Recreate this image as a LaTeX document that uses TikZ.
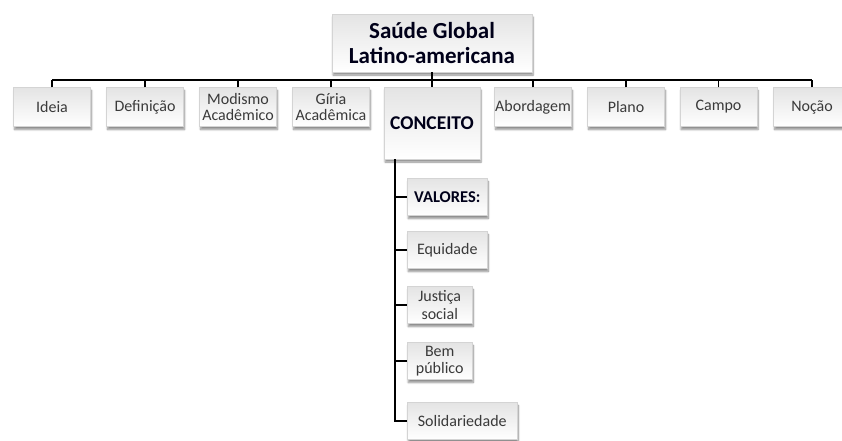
\documentclass[tikz,border=0pt]{standalone}
\usepackage{fontspec}
\setmainfont{Carlito}
\usetikzlibrary{shadows.blur}
\definecolor{txt}{HTML}{3A3A3A}
\definecolor{boxline}{HTML}{D4D4D4}
\definecolor{boxtop}{HTML}{FFFFFF}
\definecolor{boxbot}{HTML}{E4E4E4}
\begin{document}
\begin{tikzpicture}[x=1pt,y=-1pt,
  box/.style={draw=boxline, line width=0.5pt, top color=boxbot, bottom color=boxtop,
    blur shadow={shadow xshift=1pt, shadow yshift=-3pt, shadow blur steps=6, shadow opacity=45},
    inner sep=0pt, align=center, text=txt, font=\fontsize{16}{16.5}\selectfont},
  rowbox/.style={box, minimum width=77pt, minimum height=39pt},
  subbox/.style={box, anchor=west, minimum height=37pt, font=\fontsize{16}{17.5}\selectfont},
  bold/.style={text=black!90!blue, font=\bfseries\fontsize{16.5}{18}\selectfont},
  conn/.style={line width=1.6pt, black}]
\useasboundingbox (0,0) rectangle (842,440);
% top
\node[box, minimum width=200pt, minimum height=58pt, text=black!90!blue,
  font=\bfseries\fontsize{23}{25}\selectfont] (top) at (432,43) {Saúde Global\\Latino-americana};
% row
\node[rowbox] (ideia) at (52,107) {Ideia};
\node[rowbox] (defin) at (145,107) {Definição};
\node[rowbox] (modis) at (238,107) {Modismo\\Acadêmico};
\node[rowbox] (giria) at (331,107) {Gíria\\Acadêmica};
\node[box, minimum width=96pt, minimum height=72pt, text=black!90!blue,
  font=\bfseries\fontsize{19.5}{21}\selectfont] (conc) at (432,123) {CONCEITO};
\node[rowbox] (abord) at (533,107) {Abordagem};
\node[rowbox] (plano) at (626,107) {Plano};
\node[rowbox] (campo) at (718.5,107) {Campo};
\node[rowbox] (nocao) at (812,107) {Noção};
% sub
\node[subbox, minimum width=80pt, bold] (val) at (407,197) {VALORES:};
\node[subbox, minimum width=80pt] (equi) at (407,250) {Equidade};
\node[subbox, minimum width=65pt] (just) at (407,305) {Justiça\\social};
\node[subbox, minimum width=65pt] (bem) at (407,361) {Bem\\público};
\node[subbox, minimum width=110pt] (sol) at (407,421) {Solidariedade};
% connectors
\coordinate (busL) at (52,80);
\coordinate (busR) at (812,80);
\coordinate (spine) at (395,0);
\draw[conn] (busL) -- (busR);
\draw[conn] (top.south) -- (top.south |- busL);
\foreach \n in {ideia,defin,modis,giria,conc,abord,plano,campo,nocao}
  \draw[conn] (\n.north) -- (\n.north |- busL);
\draw[conn] (conc.south -| spine) -- (sol.west -| spine) -- (sol.west);
\foreach \n in {val,equi,just,bem}
  \draw[conn] (\n.west -| spine) -- (\n.west);
\end{tikzpicture}
\end{document}
